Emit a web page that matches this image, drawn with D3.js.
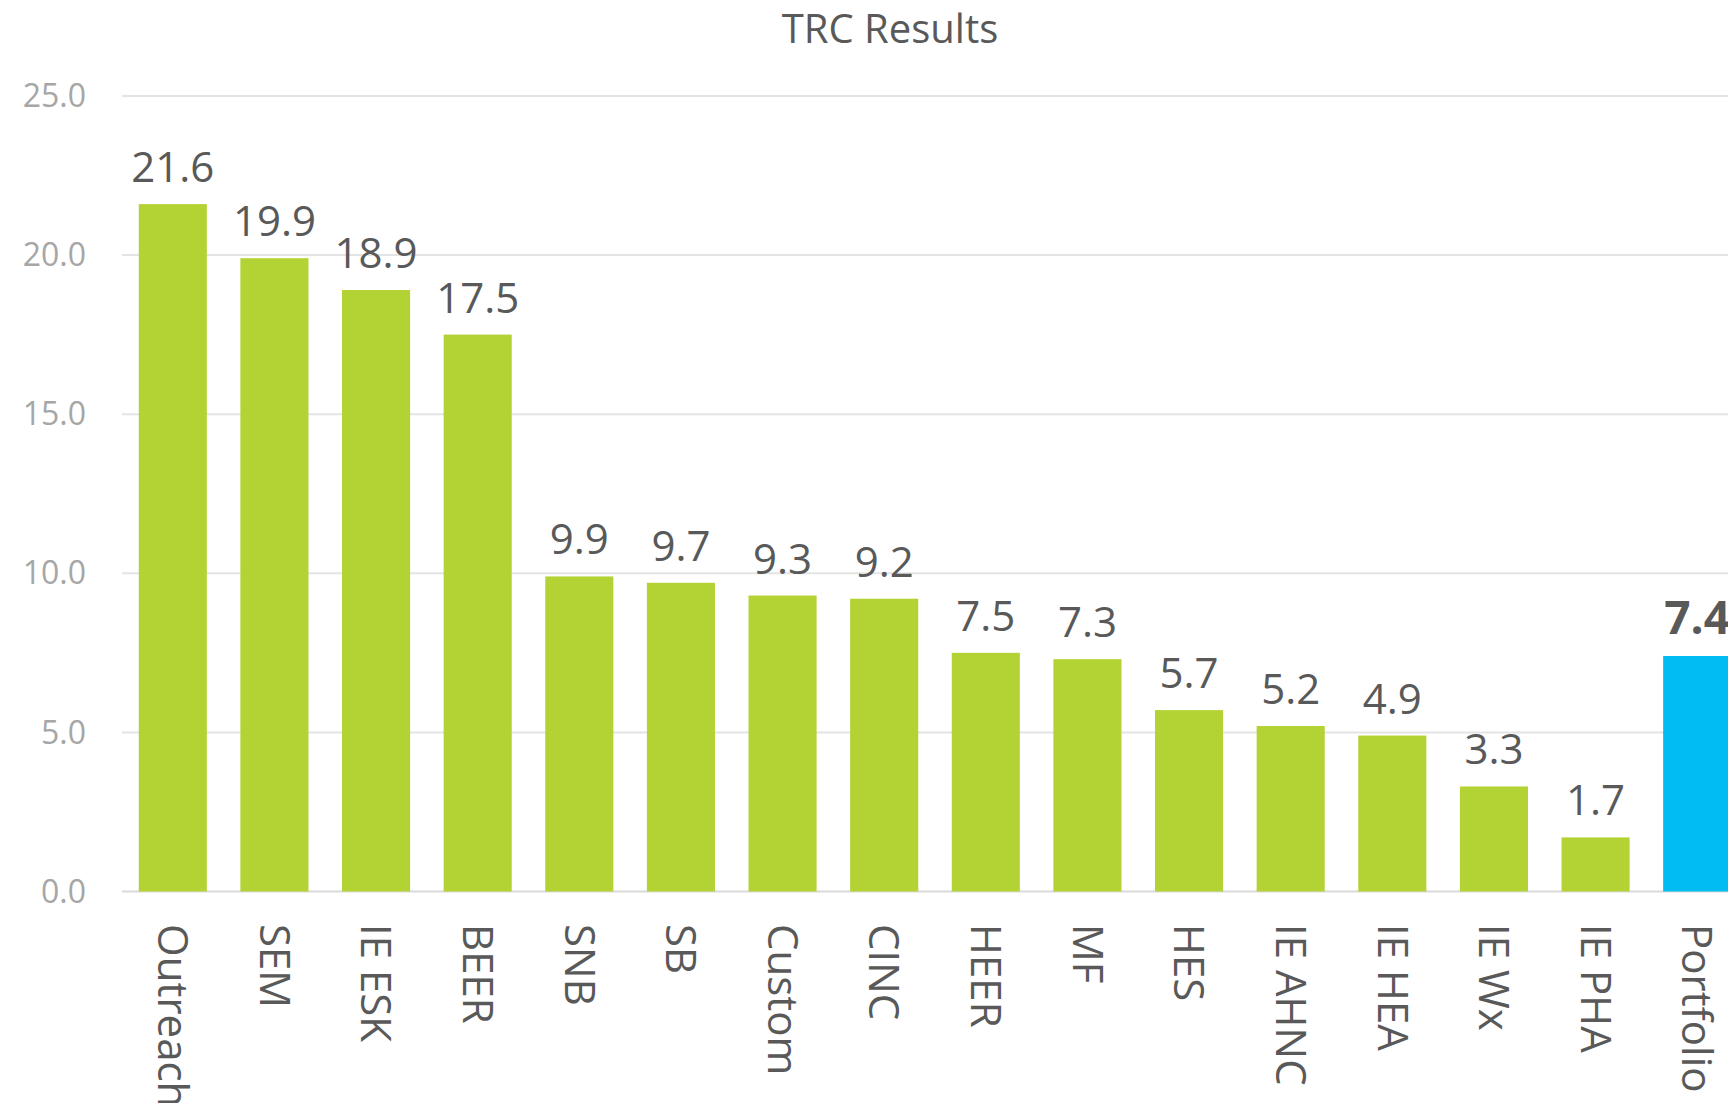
<!DOCTYPE html>
<html>
<head>
<meta charset="utf-8">
<script src="https://cdn.jsdelivr.net/npm/d3@7"></script>
<style>
  html, body { margin: 0; padding: 0; background: #fff; overflow: hidden; }
  svg { display: block; }
</style>
</head>
<body>
<div id="chart"></div>
<script>
// TRC results bar chart

const categories = ["Outreach", "SEM", "IE ESK", "BEER", "SNB", "SB", "Custom", "CINC",
  "HEER", "MF", "HES", "IE AHNC", "IE HEA", "IE Wx", "IE PHA", "Portfolio"];
const trcValues = [21.6, 19.9, 18.9, 17.5, 9.9, 9.7, 9.3, 9.2, 7.5, 7.3, 5.7, 5.2, 4.9, 3.3, 1.7, 7.4];
const yTicks = [0, 5, 10, 15, 20, 25];
const highlight = "Portfolio";

const width = 1728;
const height = 1103;
const font = "'Open Sans', 'Noto Sans', sans-serif";

const data = categories.map((c, i) => ({ name: c, value: trcValues[i] }));

const svg = d3.select("#chart")
  .append("svg")
  .attr("width", width)
  .attr("height", height)
  .attr("viewBox", [0, 0, width, height]);

// plot runs past the right edge, like the original
const x = d3.scaleBand()
  .domain(categories)
  .range([122, 1748])
  .paddingInner(0.33)
  .paddingOuter(0.165);

const y = d3.scaleLinear()
  .domain([0, 25])
  .range([891.5, 95.9]);

// Title
svg.append("text")
  .attr("x", 890)
  .attr("y", 43)
  .attr("text-anchor", "middle")
  .attr("font-family", font)
  .attr("font-size", 40)
  .attr("fill", "#595959")
  .text("TRC Results");

// Gridlines
svg.append("g")
  .selectAll("line")
  .data(yTicks)
  .join("line")
  .attr("x1", 122)
  .attr("x2", width)
  .attr("y1", d => y(d))
  .attr("y2", d => y(d))
  .attr("stroke", d => d === 0 ? "#d9d9d9" : "#e4e4e4")
  .attr("stroke-width", 2);

// Y axis labels
svg.append("g")
  .selectAll("text")
  .data(yTicks)
  .join("text")
  .attr("x", 86)
  .attr("y", d => y(d))
  .attr("dy", "0.35em")
  .attr("text-anchor", "end")
  .attr("font-family", font)
  .attr("font-size", 32)
  .attr("fill", "#a6a6a6")
  .text(d => d3.format(".1f")(d));

// Bars
svg.append("g")
  .selectAll("rect")
  .data(data)
  .join("rect")
  .attr("x", d => x(d.name))
  .attr("width", x.bandwidth())
  .attr("y", d => y(d.value))
  .attr("height", d => y(0) - y(d.value))
  .attr("fill", d => d.name === highlight ? "#00bcf0" : "#b3d335");

// Value labels
svg.append("g")
  .selectAll("text")
  .data(data)
  .join("text")
  .attr("x", d => x(d.name) + x.bandwidth() / 2)
  .attr("y", d => y(d.value) - 22)
  .attr("text-anchor", "middle")
  .attr("font-family", font)
  .attr("font-size", d => d.name === highlight ? 46 : 42)
  .attr("font-weight", d => d.name === highlight ? 700 : 400)
  .attr("fill", "#595959")
  .text(d => d3.format(".1f")(d.value));

// Category labels, rotated to read downward
svg.append("g")
  .selectAll("text")
  .data(categories)
  .join("text")
  .attr("transform", d => `translate(${x(d) + x.bandwidth() / 2},924) rotate(90)`)
  .attr("dy", "0.35em")
  .attr("text-anchor", "start")
  .attr("font-family", font)
  .attr("font-size", 42)
  .attr("fill", "#595959")
  .text(d => d);
</script>
</body>
</html>
